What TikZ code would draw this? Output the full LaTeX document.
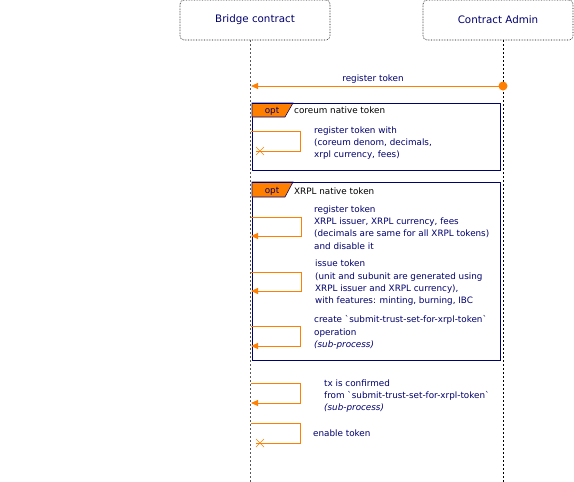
\documentclass[tikz,border=0pt]{standalone}
\usepackage{fontspec}
\setmainfont{DejaVu Sans}[Ligatures=TeXOff]
\usetikzlibrary{arrows.meta}
\definecolor{navy}{RGB}{0,0,110}
\definecolor{orng}{RGB}{255,128,0}
\newcommand{\bq}{\symbol{96}}
\tikzset{
  partbox/.style={draw=black, densely dotted, line width=0.6pt, rounded corners=4pt, minimum width=150pt, minimum height=40pt, inner sep=0pt, text=navy, font=\fontsize{10.3}{12}\selectfont},
  lifel/.style={draw=black, dash pattern=on 2pt off 2pt, line width=0.8pt},
  msgline/.style={draw=orng, line width=0.9pt},
  msgtxt/.style={text=navy, font=\fontsize{8.8}{12.3}\selectfont, anchor=base west, align=left, inner sep=0pt},
  framebox/.style={draw=navy, line width=0.8pt},
  tabfill/.style={fill=orng, draw=navy, line width=0.6pt},
  frametxt/.style={text=black, font=\fontsize{8.8}{10}\selectfont, anchor=base west, inner sep=0pt},
  opttxt/.style={text=navy, font=\fontsize{8.8}{10}\selectfont, inner sep=0pt, anchor=base},
  arr/.style={-{Triangle[width=6pt,length=7pt]}},
  xmark/.style={draw=orng, line width=0.7pt}
}
\begin{document}
\begin{tikzpicture}[x=1pt,y=-1pt]
\useasboundingbox (0,0) rectangle (574,482);
% participants
\node[partbox] (bridge) at (255,20) {Bridge contract};
\node[partbox] (admin) at (498,20) {Contract Admin};
\coordinate (bTop) at (250,40);
\coordinate (bBot) at (250,482);
\coordinate (aTop) at (503,40);
\coordinate (aBot) at (503,482);
\draw[lifel, draw=gray!70!black] (bTop) -- (bBot);
\draw[lifel] (aTop) -- (aBot);
% register token
\coordinate (rA) at (503,86);
\coordinate (rB) at (251,86);
\draw[msgline, arr] (rA) -- (rB);
\fill[orng] (rA) circle (4.5pt);
\node[opttxt] (rlab) at (373,81.5) {register token};
% frame 1
\draw[framebox] (252,103) rectangle (500,170);
\filldraw[tabfill] (252,103) -- (293,103) -- (285,117) -- (252,117) -- cycle;
\draw[framebox] (252,103) -- (500,103);
\node[opttxt] (opt1) at (272,113.5) {opt};
\node[frametxt] (f1lab) at (294,113.5) {coreum native token};
% self msg 1 (destroyed)
\coordinate (s1a) at (251,131);
\coordinate (s1b) at (300,131);
\coordinate (s1c) at (300,151);
\coordinate (s1d) at (256,151);
\draw[msgline] (s1a) -- (s1b) -- (s1c) -- (s1d);
\draw[xmark] (256,147) -- (264,155) (256,155) -- (264,147);
\node[msgtxt] (t1) at (314,157.6) {register token with\\(coreum denom, decimals,\\xrpl currency, fees)};
% frame 2
\draw[framebox] (252,182) rectangle (500,360);
\filldraw[tabfill] (252,182) -- (293,182) -- (285,197) -- (252,197) -- cycle;
\draw[framebox] (252,182) -- (500,182);
\node[opttxt] (opt2) at (272,193.5) {opt};
\node[frametxt] (f2lab) at (294,194) {XRPL native token};
% self msg 2
\coordinate (s2a) at (251,217);
\coordinate (s2b) at (301,217);
\coordinate (s2c) at (301,236);
\coordinate (s2d) at (251,236);
\draw[msgline, arr] (s2a) -- (s2b) -- (s2c) -- (s2d);
\node[msgtxt] (t2) at (314,249.2) {register token\\XRPL issuer, XRPL currency, fees\\(decimals are same for all XRPL tokens)\\and disable it};
% self msg 3
\coordinate (s3a) at (251,272);
\coordinate (s3b) at (301,272);
\coordinate (s3c) at (301,291);
\coordinate (s3d) at (251,291);
\draw[msgline, arr] (s3a) -- (s3b) -- (s3c) -- (s3d);
\node[msgtxt] (t3) at (315,303.6) {issue token\\(unit and subunit are generated using\\XRPL issuer and XRPL currency),\\with features: minting, burning, IBC};
% self msg 4
\coordinate (s4a) at (251,326);
\coordinate (s4b) at (300,326);
\coordinate (s4c) at (300,346);
\coordinate (s4d) at (251,346);
\draw[msgline, arr] (s4a) -- (s4b) -- (s4c) -- (s4d);
\node[msgtxt] (t4) at (314,347.3) {create \bq submit-trust-set-for-xrpl-token\bq\\operation\\\textit{(sub-process)}};
% self msg 5
\coordinate (s5a) at (251,383);
\coordinate (s5b) at (300,383);
\coordinate (s5c) at (300,403);
\coordinate (s5d) at (251,403);
\draw[msgline, arr] (s5a) -- (s5b) -- (s5c) -- (s5d);
\node[msgtxt] (t5) at (324,410.6) {tx is confirmed\\from \bq submit-trust-set-for-xrpl-token\bq\\\textit{(sub-process)}};
% self msg 6 (destroyed)
\coordinate (s6a) at (251,423);
\coordinate (s6b) at (300,423);
\coordinate (s6c) at (300,443);
\coordinate (s6d) at (256,443);
\draw[msgline] (s6a) -- (s6b) -- (s6c) -- (s6d);
\draw[xmark] (256,439) -- (264,447) (256,447) -- (264,439);
\node[msgtxt] (t6) at (313,436) {enable token};
\end{tikzpicture}
\end{document}
